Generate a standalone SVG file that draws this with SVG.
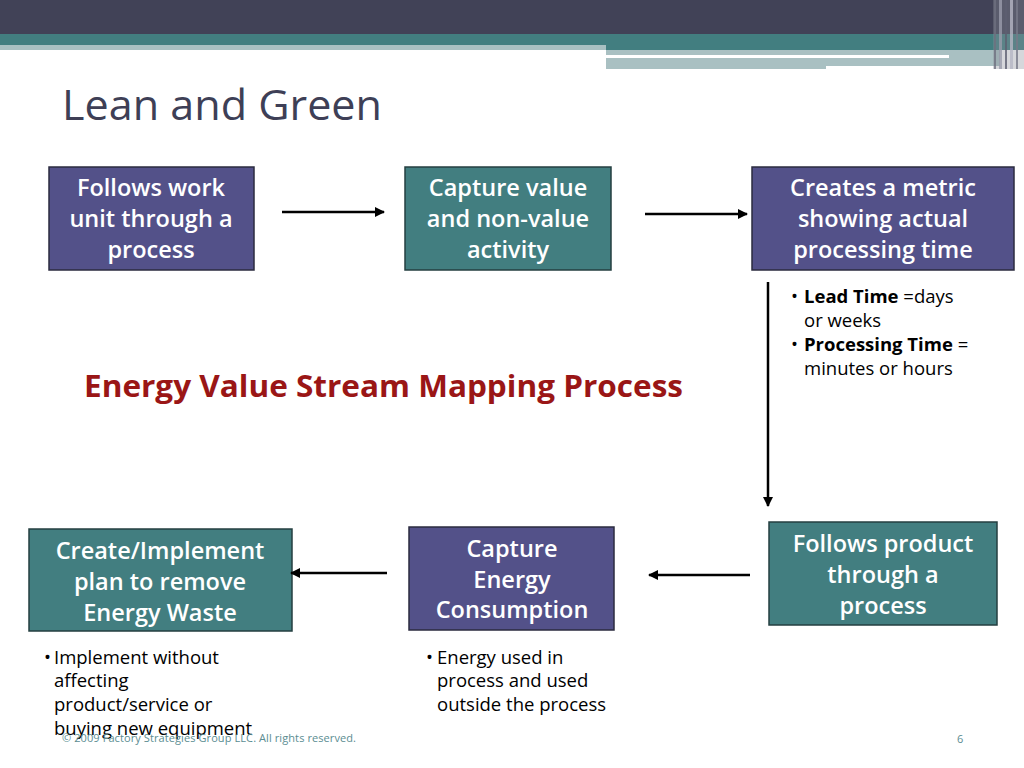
<svg xmlns="http://www.w3.org/2000/svg" width="1024" height="768" viewBox="0 0 1024 768">
<defs>
<marker id="ah" viewBox="0 0 10 10" refX="9" refY="5" markerWidth="4" markerHeight="4" orient="auto" markerUnits="strokeWidth">
<path d="M0,0 L10,5 L0,10 z" fill="#000"/>
</marker>
<style>
.purple{fill:#535189;stroke:#2b2b3f;stroke-width:1.5}
.teal{fill:#427e80;stroke:#243f40;stroke-width:1.5}
.bt{font-family:"Open Sans","DejaVu Sans",sans-serif;font-size:23.5px;font-weight:600;fill:#fff;text-anchor:middle}
.bul{font-family:"Open Sans","DejaVu Sans",sans-serif;font-size:18.5px;fill:#000}
.conn{stroke:#000;stroke-width:2.5;fill:none;marker-end:url(#ah)}
</style>
</defs>
<rect width="1024" height="768" fill="#fff"/>
<g id="header">
<rect x="0" y="0" width="1024" height="34" fill="#414257"/>
<rect x="0" y="34" width="1024" height="11" fill="#427e80"/>
<rect x="606" y="44" width="418" height="6" fill="#427e80"/>
<rect x="0" y="45" width="606" height="5" fill="#a9c0c2"/>
<rect x="606" y="50" width="394" height="5" fill="#a9c0c2"/>
<rect x="606" y="58" width="394" height="8" fill="#a9c0c2"/>
<rect x="606" y="66" width="220" height="3" fill="#a9c0c2"/>
<rect x="949" y="55" width="51" height="3" fill="#a9c0c2"/>
<rect x="993" y="0" width="31" height="69" fill="#8a8c99" opacity="0.35"/>
<rect x="994" y="0" width="2" height="69" fill="#6e7080" opacity="0.8"/>
<rect x="999" y="0" width="3" height="69" fill="#9a9cab" opacity="0.8"/>
<rect x="1005" y="0" width="2" height="69" fill="#5d5f70" opacity="0.8"/>
<rect x="1010" y="0" width="3" height="69" fill="#b5b7c4" opacity="0.8"/>
<rect x="1016" y="0" width="2" height="69" fill="#777988" opacity="0.8"/>
</g>
<text x="62" y="120" font-family="'Open Sans','DejaVu Sans',sans-serif" font-size="42" fill="#3e3f56" textLength="320" lengthAdjust="spacingAndGlyphs">Lean and Green</text>
<text x="84" y="397" font-family="'Open Sans','DejaVu Sans',sans-serif" font-size="30" font-weight="bold" fill="#9a1616" textLength="599" lengthAdjust="spacingAndGlyphs">Energy Value Stream Mapping Process</text>
<g id="n1">
<rect class="purple" x="49" y="167" width="205" height="103"/>
<text class="bt" x="151" y="196">Follows work</text>
<text class="bt" x="151" y="227">unit through a</text>
<text class="bt" x="151" y="258">process</text>
</g>
<g id="n2">
<rect class="teal" x="405" y="167" width="206" height="103"/>
<text class="bt" x="508" y="196">Capture value</text>
<text class="bt" x="508" y="227">and non-value</text>
<text class="bt" x="508" y="258">activity</text>
</g>
<g id="n3">
<rect class="purple" x="752" y="167" width="262" height="103"/>
<text class="bt" x="883" y="196">Creates a metric</text>
<text class="bt" x="883" y="227">showing actual</text>
<text class="bt" x="883" y="258">processing time</text>
</g>
<g id="n4">
<rect class="teal" x="769" y="522" width="228" height="103"/>
<text class="bt" x="883" y="552">Follows product</text>
<text class="bt" x="883" y="583">through a</text>
<text class="bt" x="883" y="614">process</text>
</g>
<g id="n5">
<rect class="purple" x="409" y="527" width="205" height="103"/>
<text class="bt" x="512" y="557">Capture</text>
<text class="bt" x="512" y="588">Energy</text>
<text class="bt" x="512" y="618">Consumption</text>
</g>
<g id="n6">
<rect class="teal" x="29" y="529" width="263" height="102"/>
<text class="bt" x="160" y="559">Create/Implement</text>
<text class="bt" x="160" y="590">plan to remove</text>
<text class="bt" x="160" y="621">Energy Waste</text>
</g>
<g id="connectors">
<line class="conn" x1="282" y1="212" x2="384" y2="212"/>
<line class="conn" x1="645" y1="214" x2="747" y2="214"/>
<line class="conn" x1="768" y1="282" x2="768" y2="506"/>
<line class="conn" x1="750" y1="575" x2="649" y2="575"/>
<line class="conn" x1="387" y1="573" x2="291" y2="573"/>
</g>
<g id="notes" class="bul">
<text x="791" y="303">•</text>
<text x="804" y="303"><tspan font-weight="bold">Lead Time</tspan> =days</text>
<text x="804" y="327">or weeks</text>
<text x="791" y="351">•</text>
<text x="804" y="351"><tspan font-weight="bold">Processing Time</tspan> =</text>
<text x="804" y="375">minutes or hours</text>
<text x="44" y="664">•</text>
<text x="54" y="664">Implement without</text>
<text x="54" y="687">affecting</text>
<text x="54" y="711">product/service or</text>
<text x="54" y="735">buying new equipment</text>
<text x="426" y="664">•</text>
<text x="437" y="664">Energy used in</text>
<text x="437" y="687">process and used</text>
<text x="437" y="711">outside the process</text>
</g>
<text x="62" y="742" font-family="'Open Sans','DejaVu Sans',sans-serif" font-size="11" fill="#5b8d92" textLength="294">© 2009 Factory Strategies Group LLC.  All rights reserved.</text>
<text x="957" y="743" font-family="'Open Sans','DejaVu Sans',sans-serif" font-size="11" fill="#5b8d92">6</text>
</svg>
